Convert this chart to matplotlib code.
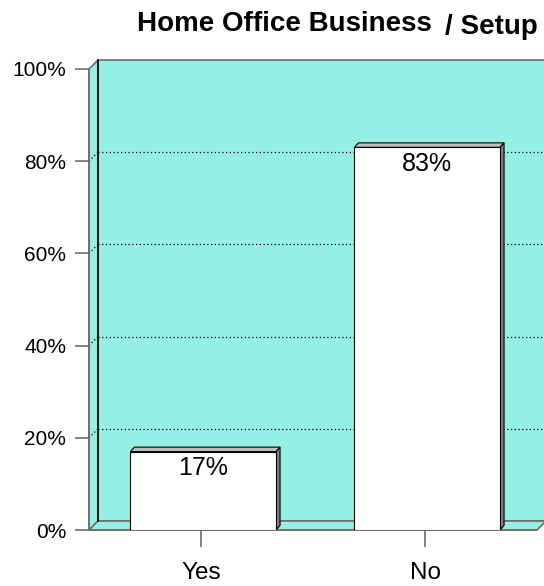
import matplotlib
matplotlib.use("Agg")
import matplotlib.pyplot as plt
from matplotlib.patches import Polygon

plt.rcParams['font.family'] = ['Liberation Sans', 'DejaVu Sans']

categories = ["Yes", "No"]
values = [17, 83]
value_labels = ["17%", "83%"]
yticks = [0, 20, 40, 60, 80, 100]
ytick_labels = ["0%", "20%", "40%", "60%", "80%", "100%"]
title_main = "Home Office Business"
title_tail = "/ Setup"

wall_color = "#95EFE4"
edge_gray = "#6E6E6E"
bar_top = "#BEBEBE"
bar_side = "#7F7F7F"

W, H = 544, 586
fig = plt.figure(figsize=(W / 100, H / 100), dpi=100)
ax = fig.add_axes([89 / W, (H - 530) / H, 448 / W, 461 / H])
n = len(categories)
ax.set_xlim(0, n)
ax.set_ylim(0, 100)

# depth of the plot box and of the columns, in data units
dx, dy = 9 / 224 * 1.0, 9 / 4.61
bdx, bdy = 4 / 224, 4.5 / 4.61

# back wall
ax.add_patch(Polygon([(dx, dy), (n + dx, dy), (n + dx, 100 + dy), (dx, 100 + dy)],
                     closed=True, facecolor=wall_color, edgecolor=edge_gray,
                     lw=1.2, clip_on=False, zorder=1))
# left wall
ax.add_patch(Polygon([(0, 0), (dx, dy), (dx, 100 + dy), (0, 100)],
                     closed=True, facecolor=wall_color, edgecolor=edge_gray,
                     lw=1.2, clip_on=False, zorder=1))
# floor
ax.add_patch(Polygon([(0, 0), (n, 0), (n + dx, dy), (dx, dy)],
                     closed=True, facecolor=wall_color, edgecolor=edge_gray,
                     lw=1.2, clip_on=False, zorder=1))
ax.plot([dx, dx], [dy, 100 + dy], color="black", lw=1.2, clip_on=False, zorder=2)

# dotted gridlines across the back wall and the left wall
for t in yticks[1:-1]:
    ax.plot([dx, n + dx], [t + dy, t + dy], color="black", lw=0.9,
            ls=(0, (1, 2)), clip_on=False, zorder=2)
    ax.plot([0, dx], [t, t + dy], color="black", lw=0.9,
            ls=(0, (1, 2)), clip_on=False, zorder=2)

# columns
width = 0.65
for i, (v, lab) in enumerate(zip(values, value_labels)):
    c = i + 0.5 + 0.01
    x0, x1 = c - width / 2, c + width / 2
    ax.add_patch(Polygon([(x0, v), (x1, v), (x1 + bdx, v + bdy), (x0 + bdx, v + bdy)],
                         closed=True, facecolor=bar_top, edgecolor="black",
                         lw=0.8, zorder=4))
    ax.add_patch(Polygon([(x1, 0), (x1 + bdx, bdy), (x1 + bdx, v + bdy), (x1, v)],
                         closed=True, facecolor=bar_side, edgecolor="black",
                         lw=0.8, zorder=4))
    ax.add_patch(Polygon([(x0, 0), (x1, 0), (x1, v), (x0, v)],
                         closed=True, facecolor="white", edgecolor="black",
                         lw=0.8, zorder=5))
    ax.text(c, v - 1.0, lab, ha="center", va="top", fontsize=18, zorder=6)

ax.set_facecolor("none")
for s in ["top", "right"]:
    ax.spines[s].set_visible(False)
for s in ["left", "bottom"]:
    ax.spines[s].set_color(edge_gray)
    ax.spines[s].set_linewidth(1.2)
    ax.spines[s].set_zorder(3)

ax.set_yticks(yticks)
ax.set_yticklabels(ytick_labels)
ax.set_xticks([i + 0.5 for i in range(n)])
ax.set_xticklabels(categories)
ax.tick_params(axis="y", length=10, width=1.2, color=edge_gray, pad=6.5, labelsize=15)
ax.tick_params(axis="x", length=12, width=1.2, color=edge_gray, pad=11, labelsize=17.5)

fig.text(137 / W, 1 - 31 / H, title_main, ha="left", va="baseline",
         fontsize=20, fontweight="bold")
fig.text(538 / W, 1 - 34 / H, title_tail, ha="right", va="baseline",
         fontsize=20, fontweight="bold")

fig.savefig("out.png", dpi=100)
